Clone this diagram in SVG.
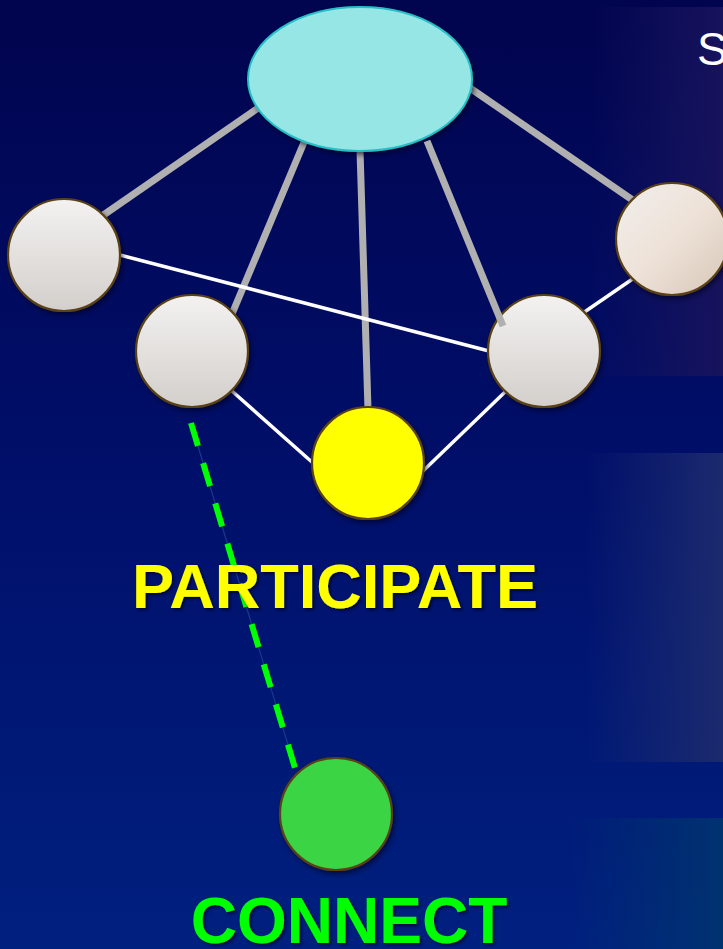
<svg xmlns="http://www.w3.org/2000/svg" width="723" height="949" viewBox="0 0 723 949">
  <defs>
    <linearGradient id="bg" x1="0" y1="0" x2="0" y2="1">
      <stop offset="0" stop-color="#01044e"/>
      <stop offset="0.5" stop-color="#000f6a"/>
      <stop offset="1" stop-color="#00207f"/>
    </linearGradient>
    <linearGradient id="panelA" x1="0" y1="0" x2="1" y2="0">
      <stop offset="0" stop-color="#17135c" stop-opacity="0"/>
      <stop offset="1" stop-color="#17135c" stop-opacity="1"/>
    </linearGradient>
    <linearGradient id="panelB" x1="0" y1="0" x2="1" y2="0">
      <stop offset="0" stop-color="#1b2a6e" stop-opacity="0"/>
      <stop offset="1" stop-color="#1b2a6e" stop-opacity="1"/>
    </linearGradient>
    <linearGradient id="panelC" x1="0" y1="0" x2="1" y2="0">
      <stop offset="0" stop-color="#003270" stop-opacity="0"/>
      <stop offset="1" stop-color="#003270" stop-opacity="1"/>
    </linearGradient>
    <linearGradient id="pearl" x1="0" y1="0" x2="0" y2="1">
      <stop offset="0" stop-color="#f3f2f1"/>
      <stop offset="1" stop-color="#d3cfcb"/>
    </linearGradient>
    <linearGradient id="pearlWarm" x1="0" y1="0" x2="1" y2="1">
      <stop offset="0" stop-color="#f1efec"/>
      <stop offset="0.5" stop-color="#eee2d8"/>
      <stop offset="1" stop-color="#d6c6b6"/>
    </linearGradient>
    <filter id="shadow" x="-20%" y="-20%" width="150%" height="150%">
      <feDropShadow dx="2" dy="3" stdDeviation="2.5" flood-color="#000020" flood-opacity="0.6"/>
    </filter>
    <filter id="textShadow" x="-10%" y="-20%" width="120%" height="150%">
      <feDropShadow dx="2" dy="2" stdDeviation="1.5" flood-color="#000020" flood-opacity="0.7"/>
    </filter>
  </defs>
  <style>
    .heavy { stroke: #b0b0b0; stroke-width: 7; fill: none; }
    .light { stroke: #ffffff; stroke-width: 3.5; fill: none; }
    .dash { stroke: #00ff00; stroke-width: 6; stroke-dasharray: 24 18; fill: none; }
    .dashCore { stroke: #1a3a8a; stroke-width: 1.2; fill: none; }
    .node { stroke: #5a4214; stroke-width: 2.2; filter: url(#shadow); }
    .label { font-family: "Liberation Sans", Arial, sans-serif; font-weight: bold; text-anchor: middle; filter: url(#textShadow); }
  </style>

  <!-- background and side panels -->
  <rect x="0" y="0" width="723" height="949" fill="url(#bg)"/>
  <rect x="590" y="7" width="133" height="369" fill="url(#panelA)"/>
  <rect x="585" y="453" width="138" height="309" fill="url(#panelB)"/>
  <rect x="570" y="818" width="153" height="131" fill="url(#panelC)"/>
  <text x="697" y="65" font-family="Liberation Sans, Arial, sans-serif" font-size="46" fill="#ffffff">S</text>

  <!-- connectors -->
  <g id="connectors">
    <line class="heavy" x1="258" y1="108" x2="102" y2="216"/>
    <line class="heavy" x1="305" y1="140" x2="232" y2="314"/>
    <line class="heavy" x1="360" y1="150" x2="368" y2="409"/>
    <line class="heavy" x1="470" y1="88" x2="634" y2="201"/>
    <line class="light" x1="120" y1="255" x2="489" y2="351"/>
    <line class="light" x1="232" y1="391" x2="313" y2="463"/>
    <line class="light" x1="423" y1="471" x2="505" y2="392"/>
    <line class="light" x1="583" y1="313" x2="634" y2="278"/>
    <line class="dashCore" x1="191" y1="423" x2="295" y2="768"/>
    <line class="dash" x1="191" y1="423" x2="295" y2="768"/>
  </g>

  <!-- nodes -->
  <g id="hub">
    <ellipse cx="360" cy="79" rx="112" ry="72" fill="#96e6e6" stroke="#26bfc6" stroke-width="2" filter="url(#shadow)"/>
  </g>
  <g id="node-left">
    <circle class="node" cx="64" cy="255" r="56" fill="url(#pearl)"/>
  </g>
  <g id="node-inner-left">
    <circle class="node" cx="192" cy="351" r="56" fill="url(#pearl)"/>
  </g>
  <g id="node-inner-right">
    <circle class="node" cx="544" cy="351" r="56" fill="url(#pearl)"/>
    <!-- spoke from the hub runs over this node -->
    <line class="heavy" x1="427" y1="141" x2="503" y2="326"/>
  </g>
  <g id="node-right">
    <circle class="node" cx="672" cy="239" r="56" fill="url(#pearlWarm)"/>
  </g>
  <g id="node-participate">
    <circle class="node" cx="368" cy="463" r="56" fill="#ffff00"/>
  </g>
  <g id="node-connect">
    <circle class="node" cx="336" cy="814" r="56" fill="#3ad444"/>
  </g>

  <!-- labels -->
  <text class="label" x="335" y="608" font-size="63" fill="#ffff00">PARTICIPATE</text>
  <text class="label" x="349" y="943" font-size="64" fill="#00ff00">CONNECT</text>
</svg>
